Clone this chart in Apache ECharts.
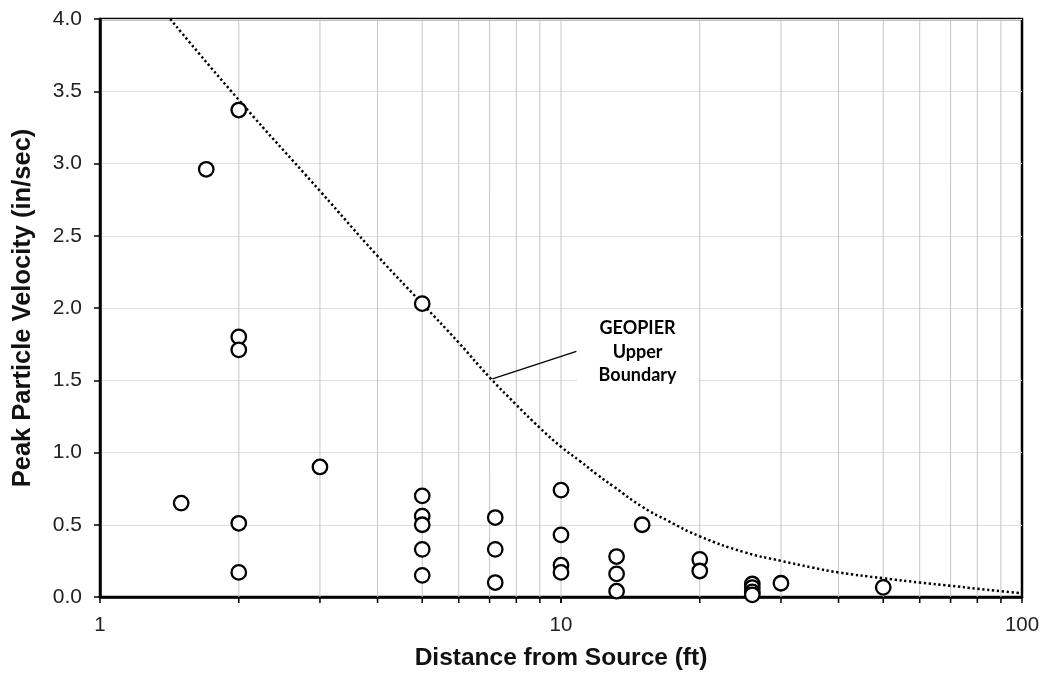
<!DOCTYPE html>
<html><head><meta charset="utf-8">
<script src="https://cdn.jsdelivr.net/npm/echarts@6/dist/echarts.min.js"></script>
<style>html,body{margin:0;padding:0;background:#fff}#c{width:1047px;height:677px}</style>
</head><body><div id="c"></div>
<script>
// Measured points: distance (ft) and peak particle velocity (in/sec)
const pointX = [1.5, 1.7, 2, 2, 2, 2, 2, 3,
  5, 5, 5, 5, 5, 5,
  7.2, 7.2, 7.2,
  10, 10, 10, 10,
  13.2, 13.2, 13.2,
  15, 20, 20,
  26, 26, 26, 26,
  30, 50];
const pointY = [0.65, 2.96, 3.37, 1.80, 1.71, 0.51, 0.17, 0.90,
  2.03, 0.70, 0.56, 0.50, 0.33, 0.15,
  0.55, 0.33, 0.10,
  0.74, 0.43, 0.22, 0.17,
  0.28, 0.16, 0.04,
  0.50, 0.26, 0.18,
  0.09, 0.065, 0.035, 0.015,
  0.095, 0.067];

// GEOPIER upper boundary curve
const curveX = [1.42, 2, 3, 4, 5, 6, 7, 8, 9, 10, 11, 12, 13, 15, 17, 20, 25, 30, 35, 40, 50, 60, 70, 80, 90, 100];
const curveY = [4.0, 3.44, 2.81, 2.36, 2.03, 1.76, 1.52, 1.33, 1.17, 1.04, 0.94, 0.845, 0.765, 0.625, 0.53, 0.42, 0.31, 0.25, 0.205, 0.17, 0.13, 0.10, 0.078, 0.057, 0.04, 0.025];

// log grid positions
const gridX = [2, 3, 4, 5, 6, 7, 8, 9, 10, 20, 30, 40, 50, 60, 70, 80, 90];

const annotationText = 'GEOPIER\nUpper\nBoundary';
const annotationAt = [14.66, 1.695];
const leaderFrom = [7.1, 1.51];
const leaderTo = [10.8, 1.70];

const chart = echarts.init(document.getElementById('c'));
chart.setOption({
  animation: false,
  backgroundColor: '#fff',
  grid: { left: 100, right: 25, top: 19, bottom: 80, show: true, borderColor: '#000', borderWidth: 2.5, outerBoundsMode: 'none' },
  xAxis: {
    type: 'log', logBase: 10, min: 1, max: 100,
    name: 'Distance from Source (ft)', nameLocation: 'middle', nameGap: 49,
    nameTextStyle: { fontFamily: 'Liberation Sans, Arial, sans-serif', fontWeight: 'bold', fontSize: 24.5, color: '#111' },
    axisLine: { show: true, lineStyle: { color: '#000', width: 2.5 } },
    axisTick: { show: true, length: 6, lineStyle: { color: '#000', width: 1.5 } },
    axisLabel: { fontFamily: 'Liberation Sans, Arial, sans-serif', fontSize: 20.5, color: '#222', margin: 18 },
    splitLine: { show: false }
  },
  yAxis: {
    type: 'value', min: 0, max: 4, interval: 0.5,
    name: 'Peak Particle Velocity (in/sec)', nameLocation: 'middle', nameGap: 64,
    nameTextStyle: { fontFamily: 'Liberation Sans, Arial, sans-serif', fontWeight: 'bold', fontSize: 25.5, color: '#111' },
    axisLine: { show: true, lineStyle: { color: '#000', width: 2.5 } },
    axisTick: { show: true, length: 6, lineStyle: { color: '#000', width: 1.5 } },
    axisLabel: { fontFamily: 'Liberation Sans, Arial, sans-serif', fontSize: 21, color: '#222', margin: 18, formatter: v => v.toFixed(1) },
    splitLine: { show: true, lineStyle: { color: '#dedede', width: 1 } }
  },
  series: [
    {
      type: 'custom', z: 1, clip: false, silent: true,
      data: gridX.map(v => [v, 0]),
      encode: { x: 0, y: 1 },
      renderItem: function (params, api) {
        const x = api.value(0);
        const bot = api.coord([x, 0]);
        const top = api.coord([x, 4]);
        return { type: 'group', children: [
          { type: 'line', shape: { x1: bot[0], y1: top[1], x2: bot[0], y2: bot[1] }, style: { stroke: '#c6c6c6', lineWidth: 1 } },
          { type: 'line', shape: { x1: bot[0], y1: bot[1], x2: bot[0], y2: bot[1] + 6 }, style: { stroke: '#000', lineWidth: 1.5 } }
        ] };
      }
    },
    {
      type: 'line', z: 3, smooth: 0.5, showSymbol: false, silent: true,
      data: curveX.map((x, i) => [x, curveY[i]]),
      lineStyle: { color: '#000', width: 2.5, type: [2.3, 2.6] },
      markLine: {
        silent: true, symbol: 'none', label: { show: false },
        lineStyle: { color: '#000', width: 1.2, type: 'solid' },
        data: [[{ coord: leaderFrom }, { coord: leaderTo }]]
      },
      markPoint: {
        silent: true, symbol: 'rect', symbolSize: [121, 80],
        itemStyle: { color: '#fff' },
        label: { show: true, position: 'inside', formatter: annotationText, fontFamily: 'Lato, Open Sans, sans-serif', fontWeight: 'bold', fontSize: 18, lineHeight: 23.5, color: '#000', align: 'center' },
        data: [{ coord: annotationAt }]
      }
    },
    {
      type: 'scatter', z: 4, silent: true,
      data: pointX.map((x, i) => [x, pointY[i]]),
      symbol: 'circle', symbolSize: 14.5,
      itemStyle: { color: '#fff', borderColor: '#000', borderWidth: 2.3, opacity: 1 }
    }
  ]
});
</script>
</body></html>
